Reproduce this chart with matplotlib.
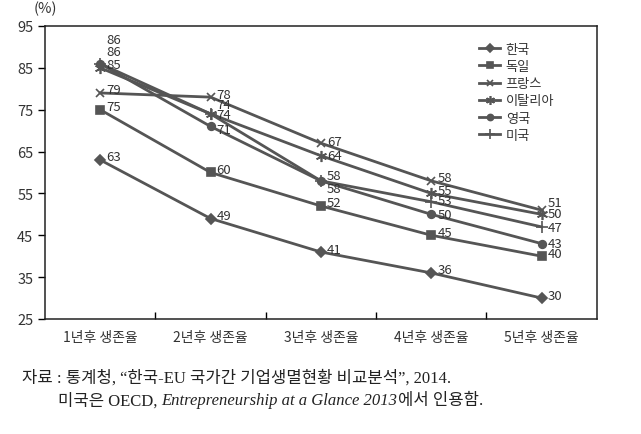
import matplotlib
matplotlib.use('Agg')
from matplotlib import pyplot as plt


# Data
categories = ['1년후 생존율', '2년후 생존율', '3년후 생존율', '4년후 생존율', '5년후 생존율']
countries = ['한국', '독일', '프랑스', '이탈리아', '영국', '미국']

korea = [63, 49, 41, 36, 30]
germany = [75, 60, 52, 45, 40]
france = [79, 78, 67, 58, 51]
italy = [85, 74, 64, 55, 50]
uk = [86, 71, 58, 50, 43]
usa = [86, 74, 58, 53, 47]

series = [korea, germany, france, italy, uk, usa]
y_ticks = [25, 35, 45, 55, 65, 75, 85, 95]


# Style
plt.rcParams['font.family'] = ['Noto Sans CJK KR', 'DejaVu Sans']
LINE_COLOR = '#555555'
markers = ['D', 's', 'x', (6, 2, 0), 'o', '+']
marker_sizes = [5, 6, 6, 8, 5.5, 9]

# vertical nudges (pixels) for value labels that would collide
label_nudge = {
    (4, 0): 24, (5, 0): 12,
    (2, 1): 3, (3, 1): 9, (5, 1): -1, (4, 1): -3,
    (2, 2): 2, (3, 2): 0, (5, 2): 5, (4, 2): -8,
    (5, 3): 1, (4, 3): 0,
    (2, 4): 8, (3, 4): 1, (5, 4): -1, (4, 4): 0,
}

fig = plt.figure(figsize=(6.41, 4.35), dpi=100)
ax = fig.add_axes([0.0702, 0.2644, 0.8609, 0.6736])

x = list(range(len(categories)))
for i, (vals, name) in enumerate(zip(series, countries)):
    ax.plot(x, vals, color=LINE_COLOR, linewidth=2, marker=markers[i],
            markersize=marker_sizes[i], markeredgewidth=1.2,
            markeredgecolor=LINE_COLOR, markerfacecolor=LINE_COLOR, label=name)
    for j, v in enumerate(vals):
        dy = label_nudge.get((i, j), 3)
        ax.annotate(str(v), (j, v), xytext=(6, dy), textcoords='offset pixels',
                    ha='left', va='center', fontsize=9.5, color='#333333')

ax.set_xlim(-0.5, 4.5)
ax.set_ylim(25, 95)
ax.set_yticks(y_ticks)
ax.set_xticks(x)
ax.set_xticklabels(categories)
ax.set_xticks([0.5, 1.5, 2.5, 3.5], minor=True)
ax.tick_params(axis='x', which='major', length=0, pad=8, labelsize=10, labelcolor='#333333')
ax.tick_params(axis='x', which='minor', direction='in', length=5, width=1)
ax.tick_params(axis='y', direction='out', length=5, width=1, labelsize=10.5, labelcolor='#333333')
for sp in ax.spines.values():
    sp.set_linewidth(1.1)
    sp.set_color('#222222')

ax.text(-0.6, 97.5, '(%)', fontsize=10.5, color='#333333', ha='left', va='bottom')

ax.legend(loc='upper left', bbox_to_anchor=(0.775, 0.965), frameon=False,
          fontsize=9.5, handlelength=1.6, handletextpad=0.4, labelspacing=0.32,
          borderpad=0, markerscale=0.8, labelcolor='#333333')

# Source note, with the book title set in italic
note_font = ['Liberation Serif', 'Noto Sans CJK KR']
fig.text(22 / 641, 1 - 378 / 435, '자료 : 통계청, “한국-EU 국가간 기업생멸현황 비교분석”, 2014.',
         family=note_font, fontsize=12, va='center', color='#222222')

renderer = fig.canvas.get_renderer()
pieces = [('미국은 OECD, ', 'normal'),
          ('Entrepreneurship at a Glance 2013', 'italic'),
          ('에서 인용함.', 'normal')]
x_pos = 58 / 641
for txt, style in pieces:
    t = fig.text(x_pos, 1 - 401 / 435, txt, family=note_font, style=style,
                 fontsize=12, va='center', color='#222222')
    bb = t.get_window_extent(renderer=renderer)
    x_pos = bb.x1 / fig.bbox.width

fig.savefig('out.png', dpi=100)
